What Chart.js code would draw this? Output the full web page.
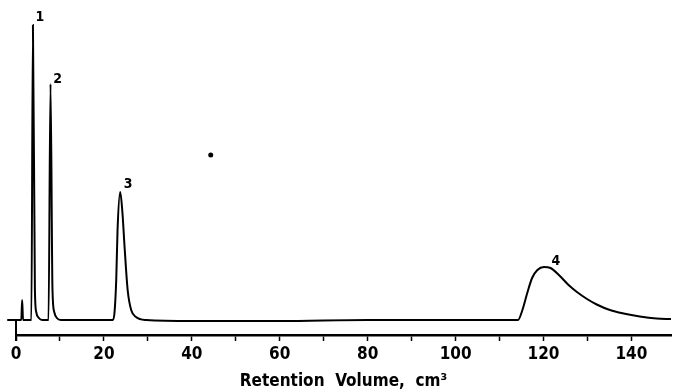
<!DOCTYPE html>
<html>
<head>
<meta charset="utf-8">
<script src="https://cdn.jsdelivr.net/npm/chart.js@4/dist/chart.umd.min.js"></script>
<style>
  html, body { margin: 0; padding: 0; background: #fff; }
  #wrap { width: 675px; height: 392px; }
</style>
</head>
<body>
<div id="wrap"><canvas id="chart"></canvas></div>
<script>
// trace (retention volume, cm3 / detector response, baseline = 0)
const traceX = [-2, 0, 1.2, 1.4, 1.6, 3.5, 3.85, 4.3, 4.6, 5.2, 6.0, 7.4, 7.85, 8.3, 8.7, 9.3, 10.2,
    22.0, 22.4, 22.8, 23.1, 23.7, 24.2, 24.7, 25.4, 26.2, 27.3, 29.6, 40, 60, 80, 100,
    114.2, 115.2, 116.3, 117.4, 118.6, 120.1, 121.6, 123.5, 125.7, 127.6, 129.9, 132.1, 135.1, 138.2, 141.9, 145.7, 149];
const traceY = [0, 0, 0, 20, 0, 0, 295, 30, 8, 2, 0, 0, 236, 30, 8, 2, 0,
    0, 7, 40, 90, 128, 108, 73, 30, 10, 3, 0, -1, -1, 0, 0,
    0, 10, 27, 42, 50, 53, 52, 45, 35, 28, 21, 15.5, 10, 6.5, 3.5, 1.5, 1];

// numbered peaks
const peakLabels = ['1', '2', '3', '4'];
const peakX = [3.85, 7.85, 23.7, 120.1];
const peakY = [295, 236, 128, 53];

// stray speck on the scan
const speckX = [44.3];
const speckY = [165];

const xTicks = [0, 20, 40, 60, 80, 100, 120, 140];

const narrow = "'Liberation Sans Narrow', 'DejaVu Sans Condensed', 'Liberation Sans', sans-serif";

const peakLabelPlugin = {
    id: 'peakLabels',
    afterDatasetsDraw(chart) {
        const ctx = chart.ctx;
        const xs = chart.scales.x;
        const ys = chart.scales.y;
        const offsets = [[7, -8], [7, -5], [8, -8], [12, -6]];
        ctx.save();
        ctx.fillStyle = '#000';
        ctx.font = 'bold 14px ' + narrow;
        ctx.textAlign = 'center';
        ctx.textBaseline = 'middle';
        peakLabels.forEach((lab, i) => {
            const px = xs.getPixelForValue(peakX[i]) + offsets[i][0];
            const py = ys.getPixelForValue(peakY[i]) + offsets[i][1];
            ctx.fillText(lab, px, py);
        });
        // start mark at zero volume
        const x0 = xs.getPixelForValue(0);
        ctx.strokeStyle = '#000';
        ctx.lineWidth = 2;
        ctx.beginPath();
        ctx.moveTo(x0, ys.getPixelForValue(0));
        ctx.lineTo(x0, chart.chartArea.bottom + 6);
        ctx.stroke();
        ctx.restore();
    }
};

new Chart(document.getElementById('chart'), {
    type: 'line',
    data: {
        datasets: [{
            data: traceX.map((x, i) => ({ x: x, y: traceY[i] })),
            borderColor: '#000',
            borderWidth: 2,
            cubicInterpolationMode: 'monotone',
            pointRadius: 0,
            fill: false,
            clip: false
        }, {
            type: 'scatter',
            data: speckX.map((x, i) => ({ x: x, y: speckY[i] })),
            backgroundColor: '#000',
            borderWidth: 0,
            pointRadius: 2.5
        }]
    },
    options: {
        responsive: true,
        maintainAspectRatio: false,
        animation: false,
        layout: { padding: { left: 16, right: 0, top: 20, bottom: 0 } },
        plugins: { legend: { display: false }, tooltip: { enabled: false } },
        scales: {
            x: {
                type: 'linear',
                min: 0,
                max: 149,
                afterFit: (scale) => { scale.height = 57; },
                border: { display: true, color: '#000', width: 2.5 },
                grid: { drawOnChartArea: false, drawTicks: true, color: '#000', tickLength: 6, tickWidth: 1.5 },
                ticks: {
                    stepSize: 10,
                    includeBounds: false,
                    autoSkip: false,
                    maxRotation: 0,
                    padding: 3,
                    color: '#000',
                    font: { family: narrow, size: 17, weight: 'bold' },
                    callback: (v) => xTicks.includes(v) ? String(v) : ''
                },
                title: {
                    display: true,
                    text: 'Retention  Volume,  cm³',
                    color: '#000',
                    padding: { top: 0, bottom: 0 },
                    font: { family: narrow, size: 17, weight: 'bold' }
                }
            },
            y: {
                display: false,
                min: -15,
                max: 300
            }
        }
    },
    plugins: [peakLabelPlugin]
});
</script>
</body>
</html>
